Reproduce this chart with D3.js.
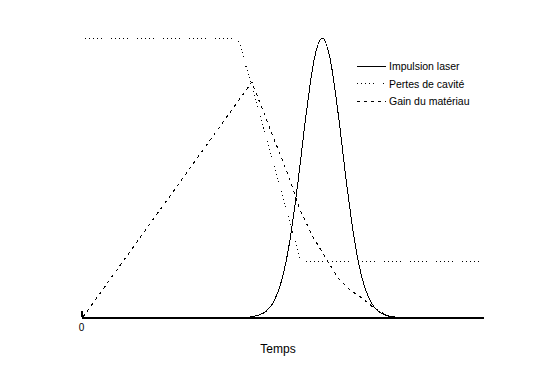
<!DOCTYPE html>
<html>
<head>
<meta charset="utf-8">
<script src="https://cdn.jsdelivr.net/npm/d3@7"></script>
<style>
  body { margin: 0; background: #fff; }
  text { font-family: Arial, "Liberation Sans", sans-serif; fill: #000; }
</style>
</head>
<body>
<div id="chart-area"></div>
<script>
// values (time in arbitrary units, level normalised to 1)
const pulseTime  = [42, 44, 46, 48, 50, 52, 54, 56, 58, 60, 62, 64, 66, 68, 70, 72, 74, 76, 78];
const pulseValue = [0, 0.006, 0.02, 0.056, 0.135, 0.278, 0.487, 0.726, 0.923, 1, 0.923, 0.726, 0.487, 0.278, 0.135, 0.056, 0.02, 0.006, 0];

const lossTime  = [1, 39.05, 54.7, 99];
const lossValue = [1, 1, 0.2, 0.2];

const gainTime  = [0.5, 42.5, 52, 54.5, 57.7, 61.2, 63.9, 66.9, 69.9, 72.6, 75.1, 76.6];
const gainValue = [0, 0.842, 0.491, 0.384, 0.287, 0.204, 0.14, 0.097, 0.068, 0.036, 0.014, 0];

const tickLabels = ["0"];
const legendLabels = ["Impulsion laser", "Pertes de cavité", "Gain du matériau"];
const axisTitle = "Temps";

// canvas
const svg = d3.select("#chart-area")
  .append("svg")
    .attr("width", 536)
    .attr("height", 373);

// scales
const x = d3.scaleLinear()
  .domain([0, 100])
  .range([81, 483]);

const y = d3.scaleLinear()
  .domain([0, 1])
  .range([317, 38]);

const dotted = "1,3,1,3,1,3,1,3,1,9";
const dashed = "3,4";

// series
const series = [
  { t: pulseTime, v: pulseValue, dash: null, curve: d3.curveMonotoneX },
  { t: lossTime, v: lossValue, dash: dotted, curve: d3.curveLinear },
  { t: gainTime, v: gainValue, dash: dashed, curve: d3.curveLinear }
];

series.forEach(function(s) {
  const pts = s.t.map(function(t, i) { return [t, s.v[i]]; });
  const line = d3.line()
    .x(function(d) { return x(d[0]); })
    .y(function(d) { return y(d[1]); })
    .curve(s.curve);
  svg.append("path")
    .datum(pts)
    .attr("d", line)
    .attr("fill", "none")
    .attr("stroke", "#000")
    .attr("stroke-width", 1)
    .attr("stroke-dasharray", s.dash)
    .attr("shape-rendering", "crispEdges");
});

// x axis, only the origin is labelled
const xAxisCall = d3.axisBottom(x)
  .tickValues([0])
  .tickFormat(function(d, i) { return tickLabels[i]; })
  .tickSizeInner(-6)
  .tickSizeOuter(0)
  .tickPadding(7);

const xAxis = svg.append("g")
  .attr("transform", "translate(0," + y(0) + ")")
  .call(xAxisCall);
xAxis.select(".domain")
  .attr("stroke", "#000")
  .attr("stroke-width", 2)
  .attr("shape-rendering", "crispEdges");
xAxis.selectAll(".tick line")
  .attr("stroke", "#000")
  .attr("stroke-width", 2)
  .attr("shape-rendering", "crispEdges");
xAxis.selectAll(".tick text")
  .attr("font-size", "10px")
  .attr("font-family", "Arial, 'Liberation Sans', sans-serif")
  .attr("fill", "#000");

svg.append("text")
  .attr("x", 278)
  .attr("y", 353)
  .attr("font-size", "12px")
  .attr("text-anchor", "middle")
  .text(axisTitle);

// legend
const legend = svg.append("g")
  .attr("transform", "translate(357, 66)");

legendLabels.forEach(function(label, i) {
  const row = legend.append("g")
    .attr("transform", "translate(0, " + (i * 17.5) + ")");
  row.append("line")
    .attr("x1", 0)
    .attr("x2", 29)
    .attr("stroke", "#000")
    .attr("stroke-dasharray", series[i].dash)
    .attr("shape-rendering", "crispEdges");
  row.append("text")
    .attr("x", 32)
    .attr("y", 4)
    .attr("font-size", "10.5px")
    .text(label);
});
</script>
</body>
</html>
